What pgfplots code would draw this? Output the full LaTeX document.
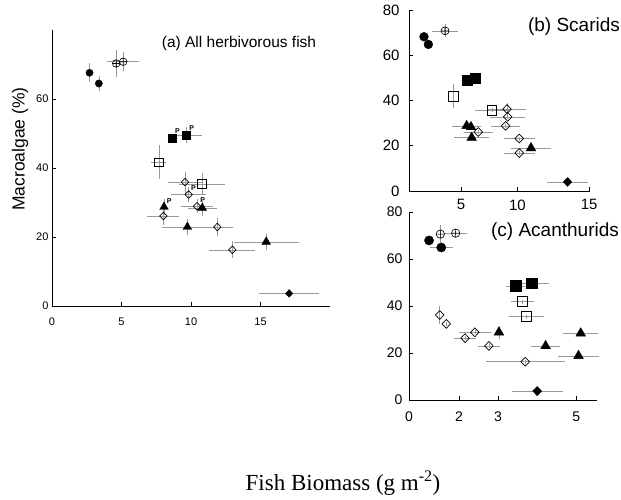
\documentclass[border=0pt]{standalone}
\usepackage{pgfplots}
\pgfplotsset{compat=1.18}
\usepackage{fontspec}
\setmainfont{Liberation Sans}
\newfontfamily\seriffont{Liberation Serif}
\pgfplotsset{
  base/.style={scale only axis, anchor=south west,
    axis x line*=bottom, axis y line*=left,
    axis line style={-, line width=1pt},
    tick align=inside, tick style={black, line width=0.6pt},
    major tick length=4pt,
    /pgf/number format/assume math mode=true,
    clip=false, ymin=0, ymax=80},
  eb/.style={error bars/.cd, x dir=both, x explicit, y dir=both, y explicit,
    error bar style={gray!80, line width=0.5pt},
    error mark options={gray!80, mark size=2pt, line width=0.5pt}},
  fcirc/.style={only marks, mark=*, mark size=#1, mark options={fill=black, draw=black}, eb},
  ocirc/.style={only marks, mark=oplus, mark size=#1, mark options={fill=white, draw=black, line width=0.6pt}, eb},
  fsq/.style={only marks, mark=square*, mark size=#1, mark options={fill=black, draw=black}, eb},
  osq/.style={only marks, mark=square, mark size=#1, mark options={draw=black, line width=0.7pt}, eb},
  odia/.style={only marks, mark=diamond, mark size=#1, mark options={draw=black, line width=0.7pt, xscale=1.3}, eb},
  ftri/.style={only marks, mark=triangle*, mark size=#1, mark options={fill=black, draw=black}, eb},
  fdia/.style={only marks, mark=diamond*, mark size=#1, mark options={fill=black, draw=black, xscale=1.3}, eb},
}
\begin{document}
\begin{tikzpicture}
\useasboundingbox (0,0) rectangle (621pt,499pt);
% ---------------- (a) ----------------
\begin{axis}[base, at={(52pt,193pt)}, width=278pt, height=276pt,
  xmin=0, xmax=20, xtick={0,5,10,15}, ytick={0,20,40,60},
  ticklabel style={font=\fontsize{11}{13}\selectfont},
  xticklabel style={yshift=-8pt}]
\addplot[fcirc=3.6pt] coordinates {(2.70,67.6) +- (0,2.2) (3.37,64.5) +- (0,1.5)};
\addplot[ocirc=3.8pt] coordinates {(4.62,70.3) +- (0,3.2) (5.12,70.8) +- (1.0,2.2)};
\addplot[fsq=4.2pt] coordinates {(8.64,48.6) +- (0,0) (9.64,49.5) +- (1.0,1.7)};
\addplot[osq=4.2pt] coordinates {(7.68,41.7) +- (0.4,4.4) (10.79,35.4) +- (1.5,2.5)};
\addplot[odia=3.8pt] coordinates {(9.57,35.9) +- (1.1,2.5) (9.83,32.3) +- (1.1,1.5) (8.01,26.1) +- (1.0,2.0) (10.43,28.9) +- (1.0,1.5) (11.89,22.9) +- (1.0,2.0) (12.97,16.3) +- (1.5,1.9)};
\addplot[ftri=5pt] coordinates {(8.06,28.7) +- (0,1.7) (10.81,28.4) +- (0.9,1.6) (9.74,22.9) +- (1.7,1.7) (15.41,18.6) +- (2.2,1.8)};
\addplot[fdia=3.8pt] coordinates {(17.06,3.65) +- (2.0,0)};
\node[font=\bfseries\fontsize{7}{8}\selectfont] at (axis cs:9.02,50.8) {P};
\node[font=\bfseries\fontsize{7}{8}\selectfont] at (axis cs:10.05,51.7) {P};
\node[font=\bfseries\fontsize{7}{8}\selectfont] at (axis cs:10.17,34.1) {P};
\node[font=\bfseries\fontsize{7}{8}\selectfont] at (axis cs:8.44,30.3) {P};
\node[font=\bfseries\fontsize{7}{8}\selectfont] at (axis cs:10.84,30.6) {P};
\end{axis}
% ---------------- (b) ----------------
\begin{axis}[base, at={(409pt,308pt)}, width=181pt, height=181pt,
  xmin=0, xmax=16.07, xtick={4.62,9.62,16.0}, xticklabels={5,10,15},
  ytick={0,20,40,60,80},
  ticklabel style={font=\fontsize{15}{17}\selectfont},
  xticklabel style={yshift=-5pt}, yticklabel style={xshift=-6pt}]
\addplot[fcirc=4.4pt] coordinates {(1.33,68.2) +- (0,0) (1.72,64.8) +- (0,0)};
\addplot[ocirc=4pt] coordinates {(3.20,70.8) +- (1.0,2.0)};
\addplot[fsq=5pt] coordinates {(5.21,49.0) +- (0,0) (5.89,50.0) +- (0,0)};
\addplot[osq=4.8pt] coordinates {(3.93,41.9) +- (0,4.4) (7.37,35.7) +- (1.3,0)};
\addplot[odia=4.4pt] coordinates {(8.70,36.2) +- (1.5,2.0) (8.76,32.8) +- (1.4,0) (8.58,28.8) +- (1.1,0) (6.15,26.1) +- (1.1,0) (9.79,23.2) +- (1.2,0) (9.79,16.8) +- (1.2,0)};
\addplot[ftri=5.6pt] coordinates {(5.12,28.8) +- (1.1,0) (5.50,28.3) +- (0,0) (5.56,23.6) +- (1.4,0) (10.83,19.0) +- (1.6,0)};
\addplot[fdia=4.4pt] coordinates {(14.08,4.0) +- (1.65,0)};
\end{axis}
% ---------------- (c) ----------------
\begin{axis}[base, at={(409pt,99pt)}, width=188pt, height=188pt,
  xmin=0, xmax=6, xtick={0,1.60,2.84,5.34}, xticklabels={0,2,3,5},
  ytick={0,20,40,60,80},
  ticklabel style={font=\fontsize{14}{16}\selectfont},
  xticklabel style={yshift=-8pt}, yticklabel style={xshift=-3pt}]
\addplot[fcirc=4.6pt] coordinates {(0.64,67.9) +- (0,0) (1.03,64.9) +- (0.3,0)};
\addplot[ocirc=4.2pt] coordinates {(1.00,70.6) +- (0,3.0) (1.49,71.0) +- (0.3,0)};
\addplot[fsq=5.4pt] coordinates {(3.40,48.6) +- (0.25,0) (3.91,49.7) +- (0.5,0)};
\addplot[osq=4.8pt] coordinates {(3.61,41.9) +- (0.3,0) (3.74,35.5) +- (0.5,0)};
\addplot[odia=4.4pt] coordinates {(0.98,36.2) +- (0,3.0) (1.19,32.4) +- (0,0) (1.79,26.3) +- (0.3,0) (2.10,28.8) +- (0.45,0) (2.55,23.0) +- (0.3,0) (3.71,16.3) +- (1.2,0)};
\addplot[ftri=5.6pt] coordinates {(2.87,28.8) +- (0,2.0) (4.36,23.0) +- (0.4,0) (5.48,28.4) +- (0.5,0) (5.41,18.8) +- (0.6,0)};
\addplot[fdia=4.6pt] coordinates {(4.09,3.8) +- (0.75,0)};
\end{axis}
% ---------------- texts ----------------
\node[font=\fontsize{15.5}{18}\selectfont] at (239pt,456pt) {(a) All herbivorous fish};
\node[font=\fontsize{19}{22}\selectfont] at (574pt,472pt) {(b) Scarids};
\node[font=\fontsize{19}{22}\selectfont] at (555pt,267pt) {(c) Acanthurids};
\node[rotate=90, font=\fontsize{17.5}{20}\selectfont] at (20pt,350pt) {Macroalgae (\%)};
\node[font=\seriffont\fontsize{23}{27}\selectfont] at (343pt,16pt) {Fish Biomass (g m\textsuperscript{-2})};
\end{tikzpicture}
\end{document}
